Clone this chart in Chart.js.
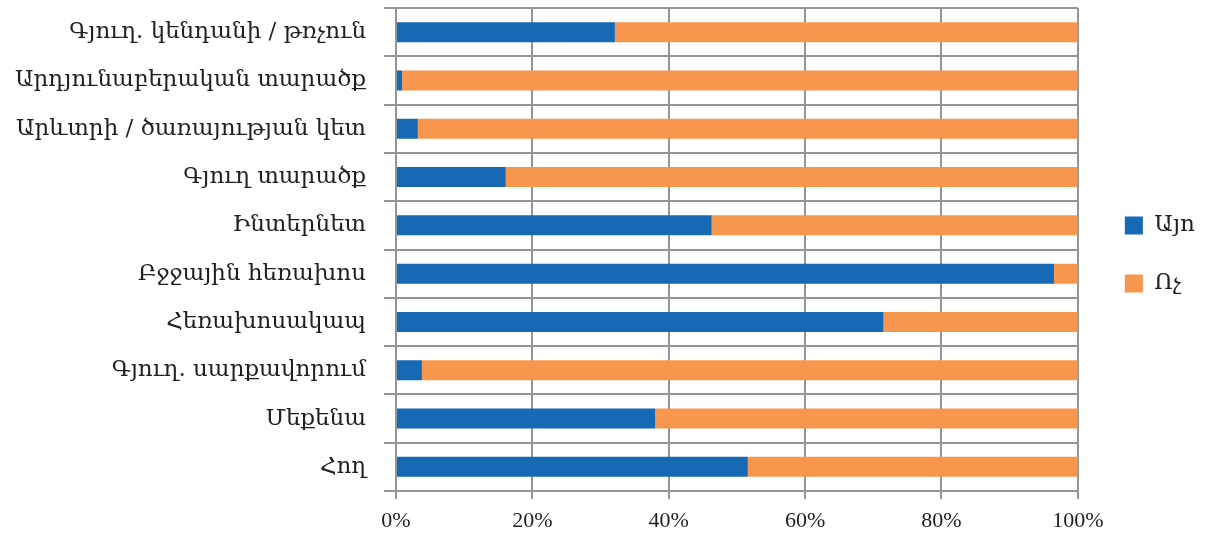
<!DOCTYPE html>
<html>
<head>
<meta charset="utf-8">
<script src="https://cdn.jsdelivr.net/npm/chart.js@4/dist/chart.umd.min.js"></script>
<style>
  html, body { margin: 0; padding: 0; background: #fff; }
  #wrap { position: relative; width: 1205px; height: 539px; }
</style>
</head>
<body>
<div id="wrap"><canvas id="chart"></canvas></div>
<script>
const categories = [
  'Գյուղ. կենդանի / թռչուն',
  'Արդյունաբերական տարածք',
  'Արևտրի / ծառայության կետ',
  'Գյուղ տարածք',
  'Ինտերնետ',
  'Բջջային հեռախոս',
  'Հեռախոսակապ',
  'Գյուղ. սարքավորում',
  'Մեքենա',
  'Հող',
];
const yesValues = [32.1, 0.9, 3.2, 16.1, 46.3, 96.5, 71.5, 3.8, 38.0, 51.6];
const noValues = [67.9, 99.1, 96.8, 83.9, 53.7, 3.5, 28.5, 96.2, 62.0, 48.4];
const seriesNames = ['Այո', 'Ոչ'];
const xTicks = [0, 20, 40, 60, 80, 100];

const gridColor = '#939598';
const fontFamily = '"Liberation Serif", "DejaVu Serif", serif';
const labelFamily = '"DejaVu Serif", serif';

// nudge the legend so it sits next to the plot like the original
const legendShift = {
  id: 'legendShift',
  afterLayout(chart) {
    const { legend } = chart;
    if (!legend) return;
    legend.left += 12;
    legend.right += 12;
    legend.top -= 19;
    legend.bottom -= 19;
  },
};

const config = {
  type: 'bar',
  data: {
    labels: categories,
    datasets: [
      {
        label: seriesNames[0],
        data: yesValues,
        backgroundColor: '#1769b3',
        categoryPercentage: 1,
        barPercentage: 0.414,
      },
      {
        label: seriesNames[1],
        data: noValues,
        backgroundColor: '#f7964d',
        categoryPercentage: 1,
        barPercentage: 0.414,
      },
    ],
  },
  options: {
    indexAxis: 'y',
    responsive: true,
    maintainAspectRatio: false,
    animation: false,
    layout: { padding: { top: 8, left: 0, right: 12, bottom: 0 } },
    scales: {
      x: {
        stacked: true,
        min: 0,
        max: 100,
        afterBuildTicks: (axis) => {
          axis.ticks = xTicks.map((v) => ({ value: v }));
        },
        afterFit: (scale) => {
          scale.height = 48;
          scale.paddingLeft = 0;
          scale.paddingRight = 0;
        },
        ticks: {
          callback: (v) => `${v}%`,
          color: '#231f20',
          font: { family: fontFamily, size: 22 },
          padding: 9,
        },
        grid: { color: gridColor, lineWidth: 2, tickLength: 8 },
        border: { color: gridColor, width: 2 },
      },
      y: {
        stacked: true,
        afterFit: (scale) => {
          // room for the long Armenian labels
          scale.width = 396;
          scale.paddingTop = 0;
          scale.paddingBottom = 0;
        },
        ticks: {
          color: '#231f20',
          font: { family: labelFamily, size: 23 },
          padding: 18,
        },
        grid: { color: gridColor, lineWidth: 2, offset: true, tickLength: 12 },
        border: { color: gridColor, width: 2 },
      },
    },
    plugins: {
      legend: {
        position: 'right',
        labels: {
          boxWidth: 18,
          boxHeight: 18,
          padding: 35,
          color: '#231f20',
          font: { family: labelFamily, size: 23 },
        },
      },
      tooltip: { enabled: false },
    },
  },
  plugins: [legendShift],
};

new Chart(document.getElementById('chart'), config);
</script>
</body>
</html>
